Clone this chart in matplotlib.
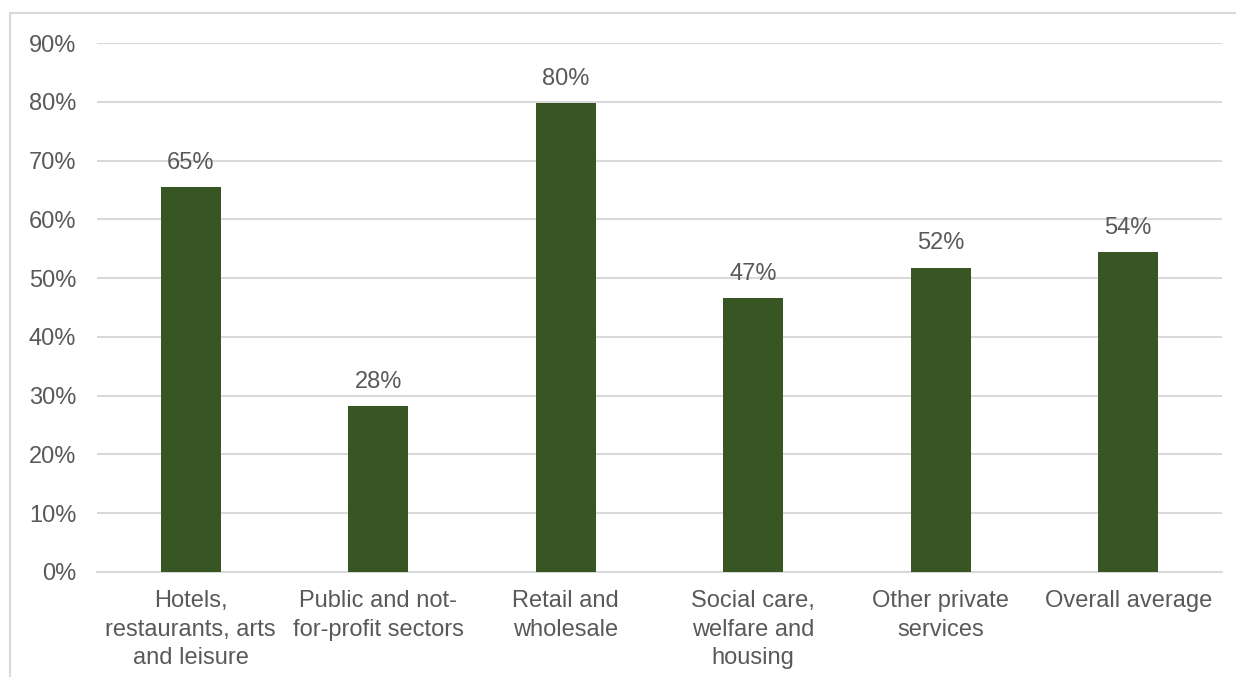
import matplotlib
matplotlib.use("Agg")
import matplotlib.pyplot as plt
from matplotlib.patches import Rectangle

categories = ["Hotels,\nrestaurants, arts\nand leisure",
              "Public and not-\nfor-profit sectors",
              "Retail and\nwholesale",
              "Social care,\nwelfare and\nhousing",
              "Other private\nservices",
              "Overall average"]
values = [65.5, 28.2, 79.8, 46.6, 51.8, 54.4]
labels = ["65%", "28%", "80%", "47%", "52%", "54%"]
yticks = [0, 10, 20, 30, 40, 50, 60, 70, 80, 90]

plt.rcParams['font.family'] = ['Liberation Sans', 'DejaVu Sans']
W, H = 1236, 677
fig = plt.figure(figsize=(W/100, H/100), dpi=100)
ax = fig.add_axes([97/W, 1-572/H, (1222-97)/W, (572-43)/H])

bar_color = "#375623"
text_color = "#595959"
grid_color = "#D9D9D9"
fs = 17

x = list(range(len(categories)))
ax.bar(x, values, width=0.32, color=bar_color, zorder=3)
for xi, v, lab in zip(x, values, labels):
    ax.annotate(lab, (xi, v), xytext=(0, 17.5), textcoords='offset points',
                ha='center', va='center', fontsize=fs, color=text_color)

ax.set_xlim(-0.5, len(categories) - 0.5)
ax.set_ylim(0, 90)
ax.set_yticks(yticks)
ax.set_yticklabels([f"{t}%" for t in yticks], fontsize=fs, color=text_color)
ax.set_xticks(x)
ax.set_xticklabels(categories, fontsize=fs, color=text_color, linespacing=1.38)
ax.tick_params(axis='both', length=0)
ax.tick_params(axis='y', pad=15)
ax.tick_params(axis='x', pad=13)
ax.grid(axis='y', color=grid_color, linewidth=1.5, zorder=0)
for s in ['top', 'right', 'left']:
    ax.spines[s].set_visible(False)
ax.spines['bottom'].set_color(grid_color)
ax.spines['bottom'].set_linewidth(1.5)

fig.patches.append(Rectangle((10/W, -0.1), 1.2, 1 - 13/H + 0.1, transform=fig.transFigure,
                             fill=False, edgecolor=grid_color, linewidth=1.5))

fig.savefig("out.png", dpi=100)
